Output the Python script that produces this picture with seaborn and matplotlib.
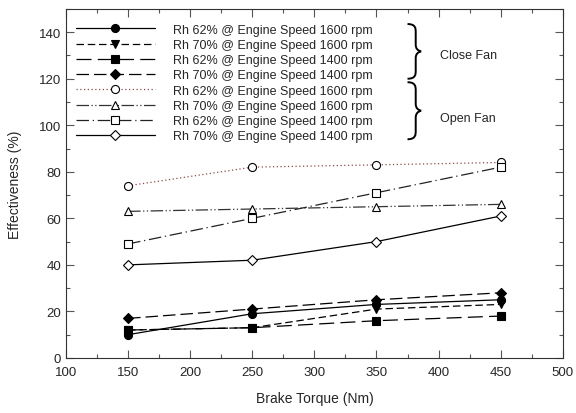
import numpy as np
import matplotlib
matplotlib.use("Agg")
import matplotlib.pyplot as plt
import seaborn as sns
from matplotlib.path import Path
from matplotlib.patches import PathPatch

torque = [150, 250, 350, 450]

# close fan
close_62_1600 = [10, 19, 23, 25]
close_70_1600 = [12, 13, 21, 23]
close_62_1400 = [12, 13, 16, 18]
close_70_1400 = [17, 21, 25, 28]
# open fan
open_62_1600 = [74, 82, 83, 84]
open_70_1600 = [63, 64, 65, 66]
open_62_1400 = [49, 60, 71, 82]
open_70_1400 = [40, 42, 50, 61]

labels = [
    "Rh 62% @ Engine Speed 1600 rpm",
    "Rh 70% @ Engine Speed 1600 rpm",
    "Rh 62% @ Engine Speed 1400 rpm",
    "Rh 70% @ Engine Speed 1400 rpm",
    "Rh 62% @ Engine Speed 1600 rpm",
    "Rh 70% @ Engine Speed 1600 rpm",
    "Rh 62% @ Engine Speed 1400 rpm",
    "Rh 70% @ Engine Speed 1400 rpm",
]
series = [close_62_1600, close_70_1600, close_62_1400, close_70_1400,
          open_62_1600, open_70_1600, open_62_1400, open_70_1400]

styles = [
    dict(marker="o", ls="-", mfc="black", color="black"),
    dict(marker="v", ls=(0, (6, 3)), mfc="black", color="black"),
    dict(marker="s", ls=(0, (12, 5)), mfc="black", color="black"),
    dict(marker="D", ls=(0, (10, 4)), mfc="black", color="black", ms=5),
    dict(marker="o", ls=(0, (1, 2)), mfc="white", color="#8b4b4b", mec="black"),
    dict(marker="^", ls=(0, (10, 2, 1, 2, 1, 2)), mfc="white", color="#333333", mec="black"),
    dict(marker="s", ls=(0, (10, 3, 1, 3)), mfc="white", color="#222222", mec="black"),
    dict(marker="D", ls="-", mfc="white", color="black", ms=5),
]

sns.set_style("ticks")
plt.rcParams["font.family"] = ["Liberation Sans", "DejaVu Sans"]

fig = plt.figure(figsize=(5.76, 4.14), dpi=100)
ax = fig.add_axes([0.1146, 0.133, 0.8624, 0.843])

for vals, lab, st in zip(series, labels, styles):
    ms = st.pop("ms", 5.8)
    mec = st.pop("mec", "black")
    sns.lineplot(x=torque, y=vals, ax=ax, label=lab, linewidth=0.9,
                 markersize=ms, markeredgecolor=mec, markeredgewidth=0.8,
                 linestyle=st["ls"], marker=st["marker"],
                 markerfacecolor=st["mfc"], color=st["color"])

ax.set_xlim(100, 500)
ax.set_ylim(0, 150)
ax.set_xticks(range(100, 501, 50))
ax.set_xticks(range(100, 501, 25), minor=True)
ax.set_yticks(range(0, 141, 20))
ax.set_yticks(range(0, 151, 10), minor=True)
ax.tick_params(which="both", direction="in", top=True, right=True,
               labelsize=9.5, width=0.8, color="#555555")
ax.tick_params(axis="x", which="major", pad=6)
ax.tick_params(which="major", length=6)
ax.tick_params(which="minor", length=3)
for sp in ax.spines.values():
    sp.set_linewidth(0.8)
    sp.set_color("#333333")

ax.set_xlabel("Brake Torque (Nm)", fontsize=10, labelpad=9)
ax.set_ylabel("Effectiveness (%)", fontsize=10, labelpad=12)

ax.legend(loc="upper left", frameon=False, fontsize=9, handlelength=6.3,
          handletextpad=1.5, labelspacing=0.26, borderaxespad=0.0,
          bbox_to_anchor=(0.01, 0.972))


def brace(ax, x0, y0, y1, w):
    ym = (y0 + y1) / 2
    xm = x0 + w * 0.6
    h = (y1 - y0)
    top = Path([(x0, y1), (xm, y1), (xm, y1 - h * 0.08), (xm, y1 - h * 0.15),
                (xm, ym + h * 0.12), (xm, ym + h * 0.02), (x0 + w, ym)],
               [Path.MOVETO, Path.CURVE4, Path.CURVE4, Path.CURVE4,
                Path.LINETO, Path.CURVE3, Path.CURVE3])
    bot = Path([(x0, y0), (xm, y0), (xm, y0 + h * 0.08), (xm, y0 + h * 0.15),
                (xm, ym - h * 0.12), (xm, ym - h * 0.02), (x0 + w, ym)],
               [Path.MOVETO, Path.CURVE4, Path.CURVE4, Path.CURVE4,
                Path.LINETO, Path.CURVE3, Path.CURVE3])
    for p in (top, bot):
        ax.add_patch(PathPatch(p, fill=False, lw=1.4, color="black"))


brace(ax, 375, 120, 143.5, 11)
brace(ax, 375, 94, 118.5, 11)
ax.text(401, 130, "Close Fan", fontsize=9, va="center", ha="left")
ax.text(401, 103, "Open Fan", fontsize=9, va="center", ha="left")

fig.savefig("out.png", dpi=100)
